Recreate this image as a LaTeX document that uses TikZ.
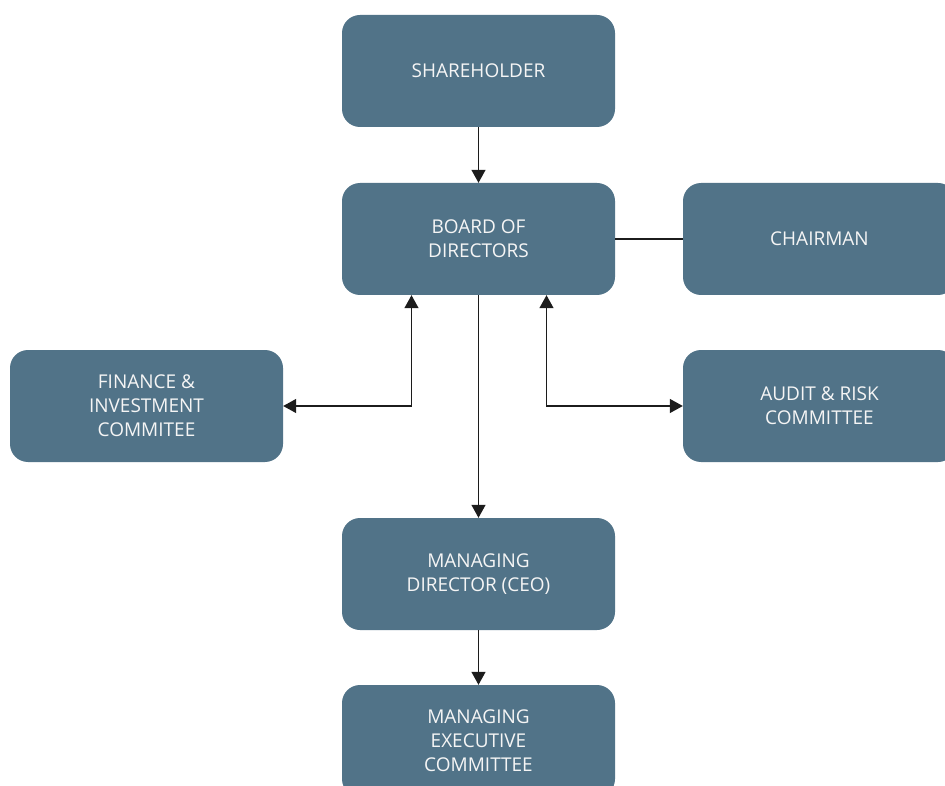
\documentclass[tikz,border=0pt]{standalone}
\usepackage{fontspec}
\setmainfont{Open Sans}
\usetikzlibrary{
  arrows.meta,
  positioning
}
\definecolor{boxblue}{HTML}{517388}
\definecolor{linedark}{HTML}{1C1C1C}

\begin{document}
\begin{tikzpicture}[
      x=1pt, y=-1pt,
      >={Triangle[length=13pt, width=14pt]},
      orgbox/.style={fill=boxblue, draw=none, rounded corners=18pt,
                     minimum width=273pt, minimum height=112pt,
                     align=center, text=white!96!black,
                     font=\fontsize{19}{24}\selectfont, inner sep=0pt},
      link/.style={line width=1.4pt, linedark}
  ]
      \useasboundingbox (0,0) rectangle (945,786);
      \clip (0,0) rectangle (945,786);

      % Boxes
      \node[orgbox] (sh)   at (478.5, 71)  {SHAREHOLDER};
      \node[orgbox] (bod)  at (478.5, 239) {BOARD OF\\DIRECTORS};
      \node[orgbox] (chair) at (819.5, 239) {CHAIRMAN};
      \node[orgbox] (fin)  at (146.5, 406) {FINANCE \&\\INVESTMENT\\COMMITEE};
      \node[orgbox] (aud)  at (819.5, 406) {AUDIT \& RISK\\COMMITTEE};
      \node[orgbox] (ceo)  at (478.5, 574) {MANAGING\\DIRECTOR (CEO)};
      \node[orgbox] (mec)  at (478.5, 741) {MANAGING\\EXECUTIVE\\COMMITTEE};

      % Connectors
      \draw[link, ->] (sh) -- (bod);
      \draw[link] (bod) -- (chair);
      \draw[link, ->] (bod) -- (ceo);
      \draw[link, ->] (ceo) -- (mec);

      % Committees
      \draw[link, <->] (fin.east) -| ([xshift=-67pt]bod.south);
      \draw[link, <->] ([xshift=68pt]bod.south) |- (aud.west);
  \end{tikzpicture}
\end{document}
